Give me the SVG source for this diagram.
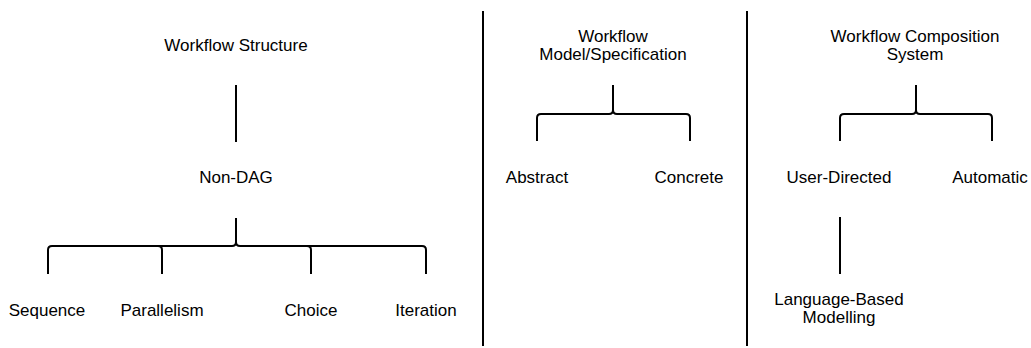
<svg xmlns="http://www.w3.org/2000/svg" width="1031" height="348" viewBox="0 0 1031 348">
<style>
text{font-family:"Liberation Sans",Arial,sans-serif;font-size:17px;fill:#000;text-anchor:middle}
.c{fill:none;stroke:#000;stroke-width:2}
</style>
<rect width="1031" height="348" fill="#fff"/>
<g id="connectors">
<path class="c" d="M483 11V346M747 11V346"/>
<path class="c" d="M236 85V142"/>
<path class="c" d="M236 218V242Q236 246 232 246H52Q48 246 48 250V274M236 242Q236 246 240 246H422Q426 246 426 250V274M158 246Q162 246 162 250V274M307 246Q311 246 311 250V274"/>
<path class="c" d="M613 85V110Q613 114 609 114H541Q537 114 537 118V141M613 110Q613 114 617 114H686Q690 114 690 118V141"/>
<path class="c" d="M916 85V110Q916 114 912 114H844Q840 114 840 118V141M916 110Q916 114 920 114H988Q992 114 992 118V141"/>
<path class="c" d="M840 217V274"/>
</g>
<g id="n-structure"><text x="236" y="51">Workflow Structure</text></g>
<g id="n-nondag"><text x="236" y="183">Non-DAG</text></g>
<g id="n-sequence"><text x="47" y="316">Sequence</text></g>
<g id="n-parallelism"><text x="162" y="316">Parallelism</text></g>
<g id="n-choice"><text x="311" y="316">Choice</text></g>
<g id="n-iteration"><text x="426" y="316">Iteration</text></g>
<g id="n-model"><text x="613" y="42">Workflow</text><text x="613" y="60">Model/Specification</text></g>
<g id="n-abstract"><text x="537" y="183">Abstract</text></g>
<g id="n-concrete"><text x="689" y="183">Concrete</text></g>
<g id="n-composition"><text x="915" y="42">Workflow Composition</text><text x="915" y="60">System</text></g>
<g id="n-user"><text x="839" y="183">User-Directed</text></g>
<g id="n-automatic"><text x="990" y="183">Automatic</text></g>
<g id="n-language"><text x="839" y="305">Language-Based</text><text x="839" y="323">Modelling</text></g>
</svg>
